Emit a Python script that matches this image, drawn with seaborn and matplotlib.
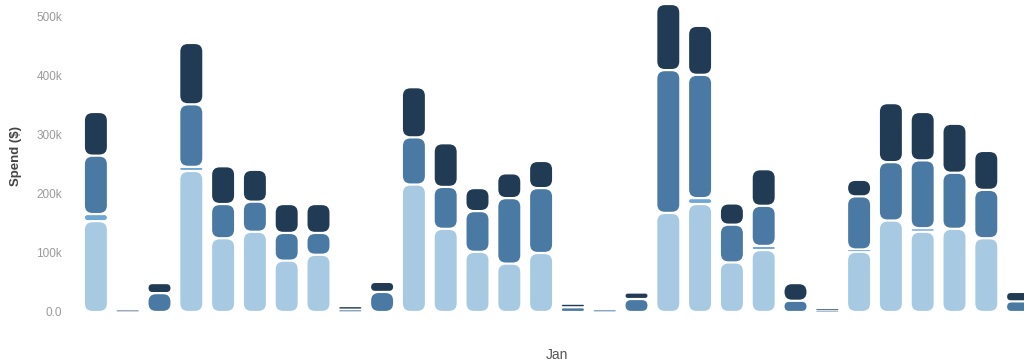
import numpy as np
import pandas as pd
import matplotlib
matplotlib.use("Agg")
import matplotlib.pyplot as plt
from matplotlib.patches import FancyBboxPatch
from matplotlib.ticker import FuncFormatter
import seaborn as sns

# 1日ごとの支出（単位: 千ドル）
days = [f"Jan {i}" for i in range(1, 31)]
base_spend = [154, 0, 0, 239, 125, 136, 87, 97, 0, 0, 216, 141, 102, 82, 100,
              0, 0, 0, 168, 183, 84, 105, 0, 0, 102, 155, 136, 141, 125, 0]
extra_spend = [12, 0, 0, 7, 0, 0, 0, 0, 0, 0, 0, 0, 0, 0, 0,
               0, 0, 0, 0, 10, 0, 7, 0, 0, 4, 0, 6, 0, 0, 0]
mid_spend = [99, 1, 32, 106, 58, 51, 47, 37, 4, 34, 80, 71, 69, 111, 110,
             8, 4, 22, 242, 209, 64, 68, 19, 3, 90, 99, 115, 95, 82, 18]
top_spend = [74, 2, 17, 104, 64, 54, 49, 49, 6, 17, 85, 74, 39, 42, 46,
             6, 0, 11, 112, 83, 36, 62, 30, 3, 28, 100, 82, 83, 66, 16]

series = [base_spend, extra_spend, mid_spend, top_spend]
colors = ["#a7cae2", "#6ea6d6", "#4a7aa4", "#223b54"]

sns.set_style("white")
plt.rcParams["font.family"] = ["Liberation Sans", "DejaVu Sans"]

fig = plt.figure(figsize=(10.24, 3.63), dpi=100)
ax = fig.add_axes([80 / 1024, 51 / 363, 954 / 1024, 312 / 363])

# 積み上げ棒
bottom = np.zeros(len(days))
for vals, col in zip(series, colors):
    df = pd.DataFrame({"day": days, "spend": np.array(vals) * 1000.0})
    sns.barplot(data=df, x="day", y="spend", order=days, color=col,
                saturation=1, width=0.69, errorbar=None, bottom=bottom, ax=ax)
    bottom = bottom + df["spend"].values

ax.set_xlim(-0.5, len(days) - 0.5)
ax.set_ylim(0, 528800)

# 角丸の棒に置き換える
fig.canvas.draw()
p0 = ax.transData.transform((0, 0))
p1 = ax.transData.transform((1, 100000))
px_x = p1[0] - p0[0]
px_y = (p1[1] - p0[1]) / 100000
aspect = px_x / px_y
radius_px = 7.5
gap_px = 1.1

for rect in list(ax.patches):
    x, y = rect.get_x(), rect.get_y()
    w, h = rect.get_width(), rect.get_height()
    fc = rect.get_facecolor()
    rect.remove()
    if h <= 0:
        continue
    inset = min(gap_px, h * px_y * 0.3) / px_y
    y0 = y + inset
    h1 = h - 2 * inset
    r = min(radius_px / px_x, w / 2, (h1 / aspect) / 2)
    ax.add_patch(FancyBboxPatch((x, y0), w, h1,
                                boxstyle=f"round,pad=0,rounding_size={r}",
                                mutation_aspect=aspect, fc=fc, ec="none", lw=0))

ax.set_xticks([])
ax.set_yticks(range(0, 600000, 100000))
ax.yaxis.set_major_formatter(FuncFormatter(lambda v, p: "0.0" if v == 0 else f"{v / 1000:.0f}k"))
ax.tick_params(axis="y", length=0, pad=13, labelsize=8.5, labelcolor="#9a9a9a")
ax.set_xlabel("Jan", fontsize=10, color="#555555", labelpad=26)
ax.set_ylabel("Spend ($)", fontsize=9.5, fontweight="bold", color="#444444", labelpad=10)
sns.despine(ax=ax, left=True, bottom=True)
ax.grid(False)

fig.savefig("out.png", dpi=100)
